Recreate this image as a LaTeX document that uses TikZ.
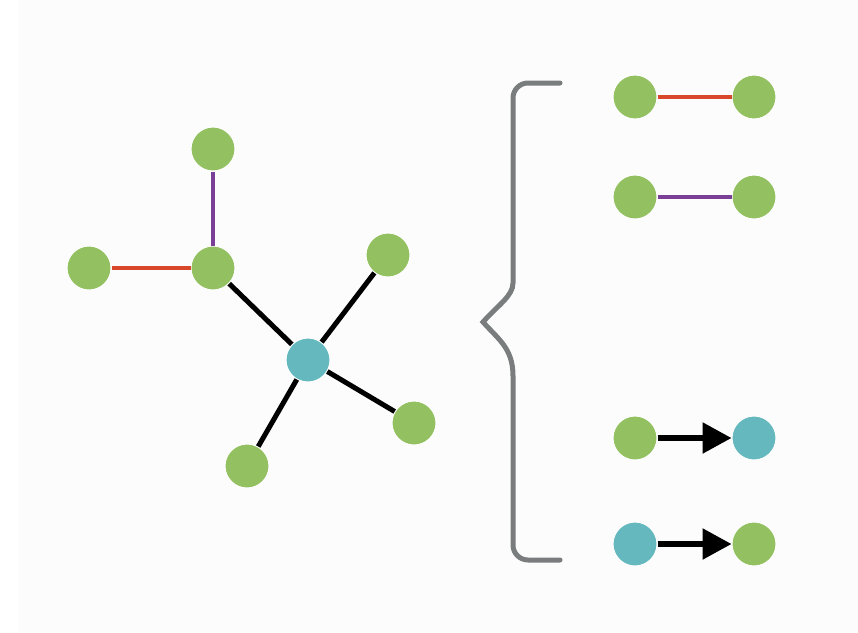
\documentclass[tikz,border=0pt]{standalone}
\usetikzlibrary{arrows.meta}
\definecolor{bgwhite}{HTML}{FCFCFC}
\definecolor{nodegreen}{HTML}{93C161}
\definecolor{nodecyan}{HTML}{66B8BF}
\definecolor{edgered}{HTML}{D9472B}
\definecolor{edgepurple}{HTML}{7A3F96}
\definecolor{bracegray}{HTML}{7A7D7D}
\tikzset{
  gnode/.style={circle, fill=nodegreen, draw=white, line width=1pt, minimum size=44pt, inner sep=0pt},
  cnode/.style={circle, fill=nodecyan, draw=white, line width=1pt, minimum size=44pt, inner sep=0pt},
  redge/.style={draw=edgered, line width=4pt},
  pedge/.style={draw=edgepurple, line width=4pt},
  bedge/.style={draw=black, line width=5pt},
  aedge/.style={draw=black, line width=5.5pt, -{Triangle[length=29pt,width=30pt]}},
  bracestyle/.style={draw=bracegray, line width=5pt, line cap=round}
}
\begin{document}
\begin{tikzpicture}[x=1pt, y=-1pt]
\useasboundingbox (0,0) rectangle (858,632);
\fill[white] (0,0) rectangle (858,632);
\fill[bgwhite] (18,0) rectangle (858,632);
% left graph
\node[gnode] (top) at (213,149) {};
\node[gnode] (mid) at (213,268) {};
\node[gnode] (left) at (89,268) {};
\node[cnode] (hub) at (308,360) {};
\node[gnode] (ur) at (388,255) {};
\node[gnode] (lr) at (414,423) {};
\node[gnode] (bot) at (247,466) {};
\draw[pedge] (top) -- (mid);
\draw[redge] (left) -- (mid);
\draw[bedge] (mid) -- (hub);
\draw[bedge] (hub) -- (ur);
\draw[bedge] (hub) -- (lr);
\draw[bedge] (hub) -- (bot);
% brace
\draw[bracestyle] (560,83) [rounded corners=15pt] -- (513,83) -- (513,268) [sharp corners]
  .. controls (513,296) and (498,305) .. (483,322)
  .. controls (498,339) and (513,348) .. (513,376)
  [rounded corners=15pt] -- (513,560) -- (560,560);
% right column
\node[gnode] (a1) at (635,97) {};
\node[gnode] (b1) at (754,97) {};
\node[gnode] (a2) at (635,197) {};
\node[gnode] (b2) at (754,197) {};
\node[gnode] (a3) at (635,438) {};
\node[cnode] (b3) at (754,438) {};
\node[cnode] (a4) at (635,544) {};
\node[gnode] (b4) at (754,544) {};
\draw[redge] (a1) -- (b1);
\draw[pedge] (a2) -- (b2);
\draw[aedge] (a3) -- (b3);
\draw[aedge] (a4) -- (b4);
\end{tikzpicture}
\end{document}
